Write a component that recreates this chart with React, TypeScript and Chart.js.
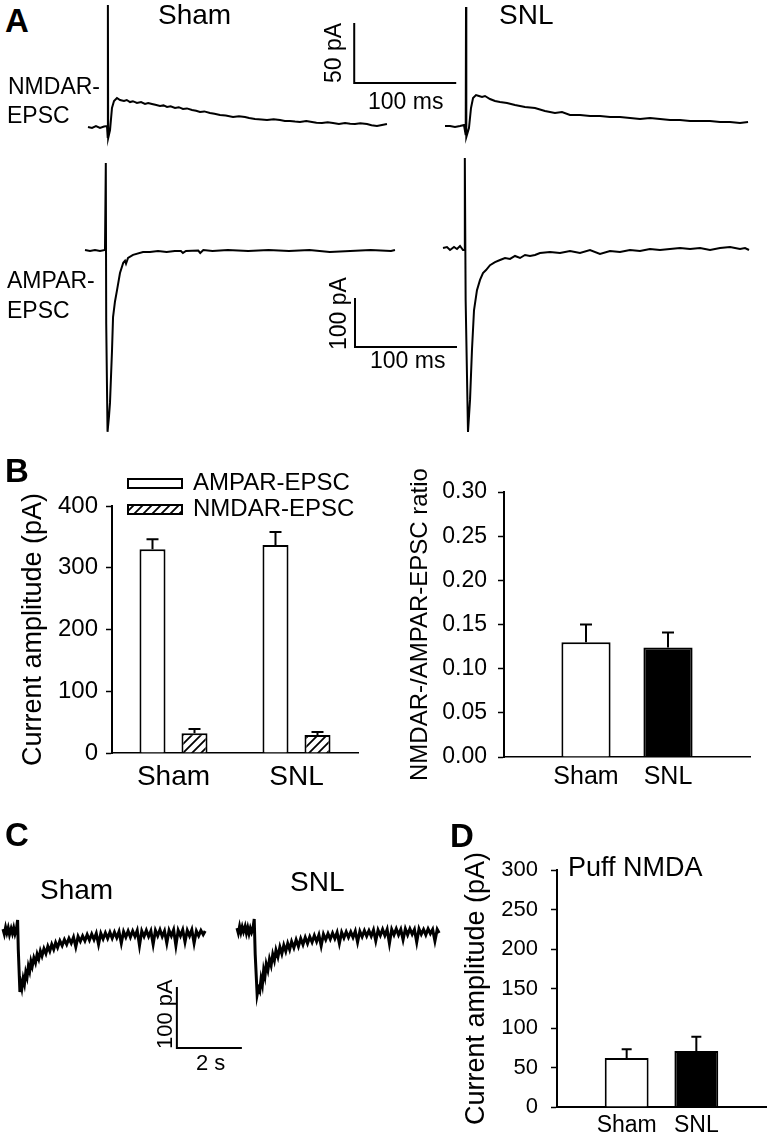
import React, { useEffect, useRef } from 'react';
import { Chart, registerables } from 'chart.js';

Chart.register(...registerables);

const FONT = "'Liberation Sans', Arial, Helvetica, sans-serif";
Chart.defaults.font.family = FONT;
Chart.defaults.color = '#000';

type Pt = [number, number];
type Box = { l: number; t: number; w: number; h: number };

// ---------------- DATA ----------------
// Panel A traces: [time (ms), current (pA)]
const A_NMDA_SHAM: Pt[] = [
  [0, 0], [3.9, -0.8], [7.8, 0.8], [11.8, -0.8], [15.7, 0.4], [18.6, 0.8], [19.3, -8.3], [19.5, 101.7], [19.8, -9.2],
  [21.6, -2.5], [23.5, 15.8], [25.5, 21.7], [28.4, 24.2], [31.4, 22.5], [35.3, 21.7], [38, 22.5], [41.2, 20.8], [44, 21.5],
  [48, 20], [52, 20.8], [55.9, 19.2], [59, 20], [62.7, 19.2], [66, 18.5], [70.6, 17.5], [74, 18], [77.5, 16.7], [81, 17.2],
  [85.3, 15.8], [89, 16.5], [93.1, 15], [97, 15.5], [102, 14.2], [106, 13.5], [109.8, 12.5], [114, 13], [119.6, 11.7],
  [124, 11], [129.4, 10], [135, 9.5], [142.2, 8.3], [148, 9], [153.9, 8.3], [158, 7.5], [163.7, 6.7], [170, 6.2],
  [175.5, 5.8], [182, 6.5], [188.2, 5.8], [193, 5], [198, 5], [203, 4.5], [207.8, 4.2], [214, 5], [219.6, 4.2], [224, 3.5],
  [229.4, 3.3], [235, 4], [240.2, 3.3], [246, 2.5], [252, 3.3], [257, 2.8], [261.8, 2.5], [267, 3.2], [273.5, 2.5],
  [278, 1.5], [283.3, 0.8], [288.2, 1.7], [293.1, 2.5],
];
const A_NMDA_SNL: Pt[] = [
  [0, 0], [4.9, 0], [9.8, -0.8], [14.7, 0], [18.6, 0.8], [20.3, -7.5], [20.6, 99.2], [20.9, -9.2], [23.5, -1.7],
  [25.5, 15], [27.5, 23.3], [30.4, 25.8], [33.3, 25], [36.3, 24.2], [39.2, 25], [44.1, 22.5], [49, 20.8], [53.9, 20],
  [60.8, 19.2], [68.6, 17.5], [78.4, 15.8], [88.2, 15], [98, 12.5], [107.8, 10.8], [114.7, 11.7], [122.5, 9.2],
  [132.4, 9.2], [142.2, 8.3], [152, 8.3], [161.8, 7.5], [171.6, 7.5], [181.4, 6.7], [191.2, 5.8], [201, 6.7],
  [210.8, 5.8], [220.6, 5], [230.4, 5], [240.2, 4.2], [250, 4.2], [259.8, 4.2], [269.6, 3.3], [279.4, 3.3],
  [289.2, 2.5], [297.1, 3.3],
];
const A_AMPA_SHAM: Pt[] = [
  [0, 0], [4.9, -2], [9.8, 0], [14.7, -2], [19.6, 0], [20.4, 177.6], [20.8, -150], [22.1, -371], [23.5, -340],
  [24.5, -312], [26.5, -204], [27.5, -137], [29.4, -105], [31.4, -82], [34.3, -47], [37.5, -26], [39.2, -22], [40.2, -28],
  [42.2, -16], [47.1, -10], [56.9, -4], [63.7, -4], [71.6, -2], [80, -4], [88, -2], [94, -2], [96, -6], [99, -2],
  [111, -1], [113, -6], [116, 0], [125, -2], [140, 0], [160, -2], [180, 0], [200, -2], [220, 0], [240, -4],
  [260, -2], [280, 0], [300, -2], [303.9, 0],
];
const A_AMPA_SNL: Pt[] = [
  [0, 0], [3.9, 2], [6.9, -4.1], [10.8, 2], [13.7, -2], [16.7, 4.1], [19.6, -4.1], [21.1, -4.1], [21.4, 183.7],
  [22.2, -106], [24.5, -375.5], [26.5, -310], [28.4, -208], [30.4, -127], [33.3, -86], [36.3, -65], [39.2, -51],
  [42.2, -45], [46.1, -35], [51, -29], [55.9, -24.5], [60.8, -20.4], [65.7, -22.4], [70.6, -16.3], [75.5, -20.4],
  [80.4, -14.3], [85.3, -16.3], [90.2, -14.3], [95.1, -10.2], [104.9, -8.2], [114.7, -10.2], [124.5, -6.1],
  [134.3, -10.2], [144.1, -4.1], [153.9, -12.2], [163.7, -6.1], [173.5, -8.2], [183.3, -4.1], [193.1, -6.1],
  [202.9, -2], [212.7, -4.1], [222.5, -2], [232.4, 0], [242.2, -2], [252, 0], [261.8, -4.1], [271.6, 0],
  [281.4, 2], [291.2, -2], [296.1, 0], [300, -4.1],
];
const A_NMDA_SCALE = { ms: 100, pA: 50 };
const A_AMPA_SCALE = { ms: 100, pA: 100 };

// Panel C traces: [time (s), current (pA)]
const C_SHAM: Pt[] = [
  [0.0, 3], [0.04, -5], [0.08, 6], [0.12, -3], [0.16, 5], [0.2, -6], [0.25, 4], [0.29, -4], [0.33, 5], [0.37, -5],
  [0.41, 2], [0.45, 18], [0.47, -30], [0.52, -100], [0.55, -86], [0.58, -94],
  [0.62, -78], [0.66, -87], [0.7, -68], [0.74, -76], [0.78, -58], [0.82, -66], [0.86, -50], [0.9, -58], [0.95, -44],
  [1.0, -52], [1.05, -38], [1.1, -46], [1.15, -33], [1.2, -41], [1.26, -29], [1.32, -37], [1.38, -25], [1.44, -33],
  [1.5, -22], [1.56, -30], [1.62, -19], [1.68, -27], [1.75, -16], [1.82, -24], [1.89, -14], [1.96, -22], [2.03, -12],
  [2.1, -20], [2.17, -10], [2.24, -26], [2.31, -9], [2.38, -17], [2.45, -8], [2.52, -16], [2.59, -6], [2.66, -15],
  [2.73, -5], [2.8, -14], [2.87, -4], [2.94, -22], [3.01, -4], [3.08, -13], [3.15, -3], [3.22, -12], [3.29, -2],
  [3.36, -12], [3.43, -2], [3.5, -11], [3.57, -1], [3.64, -20], [3.71, -1], [3.78, -10], [3.85, 0], [3.92, -10],
  [3.99, 0], [4.06, -9], [4.13, 1], [4.2, -24], [4.27, 0], [4.34, -9], [4.41, 1], [4.48, -9], [4.55, 0], [4.62, -22],
  [4.69, 1], [4.76, -8], [4.83, 2], [4.9, -9], [4.97, 0], [5.04, -20], [5.11, 1], [5.18, -8], [5.25, 2], [5.32, -24],
  [5.39, 1], [5.46, -8], [5.53, 2], [5.6, -18], [5.67, 1], [5.74, -8], [5.81, 2], [5.88, -20], [5.95, 0], [6.02, -8],
  [6.09, 1], [6.16, -6], [6.22, 0],
];
const C_SNL: Pt[] = [
  [0.0, 3], [0.04, -5], [0.08, 6], [0.12, -4], [0.16, 5], [0.2, -3], [0.25, 6], [0.29, -5], [0.33, 4], [0.37, -6],
  [0.41, 3], [0.45, -4], [0.49, 2], [0.53, 18], [0.56, -40], [0.62, -106], [0.66, -95], [0.7, -100],
  [0.74, -80], [0.78, -90], [0.82, -66], [0.86, -76], [0.9, -56], [0.95, -66], [1.0, -48], [1.05, -58], [1.1, -40],
  [1.15, -50], [1.2, -33], [1.26, -44], [1.32, -28], [1.38, -39], [1.44, -25], [1.5, -35], [1.56, -22], [1.62, -32],
  [1.68, -19], [1.75, -29], [1.82, -16], [1.89, -27], [1.96, -14], [2.03, -24], [2.1, -12], [2.17, -22], [2.24, -11],
  [2.31, -20], [2.38, -9], [2.45, -19], [2.52, -8], [2.59, -26], [2.66, -7], [2.73, -16], [2.8, -6], [2.87, -15],
  [2.94, -5], [3.01, -14], [3.08, -4], [3.15, -22], [3.22, -4], [3.29, -13], [3.36, -3], [3.43, -12], [3.5, -3],
  [3.57, -12], [3.64, -2], [3.71, -20], [3.78, -2], [3.85, -11], [3.92, -1], [3.99, -10], [4.06, -1], [4.13, -10],
  [4.2, 0], [4.27, -18], [4.34, 0], [4.41, -9], [4.48, 1], [4.55, -9], [4.62, 1], [4.69, -22], [4.76, 1], [4.83, -8],
  [4.9, 2], [4.97, -8], [5.04, 1], [5.11, -16], [5.18, 2], [5.25, -8], [5.32, 2], [5.39, -7], [5.46, 1], [5.53, -20],
  [5.6, 2], [5.67, -7], [5.74, 1], [5.81, -8], [5.88, 2], [5.95, -6], [6.02, 1], [6.09, -18], [6.16, 1], [6.22, -5],
];
const C_SCALE = { s: 2, pA: 100 };

// Panel B (left): current amplitudes
const B_GROUPS = ['Sham', 'SNL'];
const B_AMPAR = [330, 337];
const B_AMPAR_SEM = [16, 21];
const B_NMDAR = [32, 29];
const B_NMDAR_SEM = [7, 5];

// Panel B (right): NMDAR/AMPAR ratio
const RATIO_LABELS = ['', 'Sham', 'SNL', ''];
const RATIO = [null, 0.13, 0.124, null];
const RATIO_SEM = [0, 0.02, 0.017, 0];

// Panel D: puff NMDA
const PUFF_LABELS = ['', 'Sham', 'SNL', ''];
const PUFF = [null, 62, 71, null];
const PUFF_SEM = [0, 11, 18, 0];

// ---------------- HELPERS ----------------
function scaleBar(t0: number, i0: number, dt: number, di: number): Pt[] {
  return [[t0, i0 + di], [t0, i0], [t0 + dt, i0]];
}

function traceConfig(box: Box, ox: number, oy: number, pxX: number, pxY: number, lines: { pts: Pt[]; w: number }[]): any {
  const xmin = (box.l - ox) / pxX;
  const xmax = xmin + box.w / pxX;
  const ymax = (oy - box.t) / pxY;
  const ymin = ymax - box.h / pxY;
  return {
    type: 'scatter',
    data: {
      datasets: lines.map((ln) => ({
        data: ln.pts.map(([x, y]) => ({ x, y })),
        showLine: true,
        borderColor: '#000',
        borderWidth: ln.w,
        pointRadius: 0,
        tension: 0,
        clip: false,
        borderJoinStyle: 'miter',
      })),
    },
    options: {
      responsive: false,
      animation: false,
      devicePixelRatio: 1,
      events: [],
      layout: { padding: 0 },
      plugins: { legend: { display: false }, tooltip: { enabled: false } },
      scales: {
        x: { type: 'linear', display: false, min: xmin, max: xmax },
        y: { type: 'linear', display: false, min: ymin, max: ymax },
      },
    },
  };
}

function hatchPattern(): any {
  const c = document.createElement('canvas');
  c.width = 9;
  c.height = 9;
  const g = c.getContext('2d')!;
  g.fillStyle = '#fff';
  g.fillRect(0, 0, 9, 9);
  g.strokeStyle = '#000';
  g.lineWidth = 1.8;
  g.beginPath();
  g.moveTo(-1, 10); g.lineTo(10, -1);
  g.moveTo(-1, 1); g.lineTo(1, -1);
  g.moveTo(8, 10); g.lineTo(10, 8);
  g.stroke();
  return g.createPattern(c, 'repeat');
}

function errorBars(id: string, errors: number[][], cap: number, width: number) {
  return {
    id,
    afterDatasetsDraw(chart: any) {
      const { ctx } = chart;
      const y = chart.scales.y;
      ctx.save();
      ctx.strokeStyle = '#000';
      ctx.lineWidth = width;
      chart.data.datasets.forEach((ds: any, i: number) => {
        const meta = chart.getDatasetMeta(i);
        meta.data.forEach((bar: any, j: number) => {
          const v = ds.data[j];
          const e = errors[i][j];
          if (v == null || !e) return;
          const yb = y.getPixelForValue(v);
          const yt = y.getPixelForValue(v + e);
          ctx.beginPath();
          ctx.moveTo(bar.x, yb);
          ctx.lineTo(bar.x, yt);
          ctx.moveTo(bar.x - cap / 2, yt);
          ctx.lineTo(bar.x + cap / 2, yt);
          ctx.stroke();
        });
      });
      ctx.restore();
    },
  };
}

function boxLegend(id: string, o: { dx: number; dy: number; row: number; bw: number; bh: number; gap: number; size: number }) {
  return {
    id,
    afterDraw(chart: any) {
      const { ctx, chartArea } = chart;
      ctx.save();
      chart.data.datasets.forEach((ds: any, i: number) => {
        const x = chartArea.left + o.dx;
        const y = chartArea.top + o.dy + i * o.row;
        ctx.fillStyle = ds.backgroundColor;
        ctx.fillRect(x, y, o.bw, o.bh);
        ctx.lineWidth = 2;
        ctx.strokeStyle = '#000';
        ctx.strokeRect(x, y, o.bw, o.bh);
        ctx.fillStyle = '#000';
        ctx.font = `${o.size}px ${FONT}`;
        ctx.textBaseline = 'middle';
        ctx.textAlign = 'left';
        ctx.fillText(ds.label, x + o.bw + o.gap, y + o.bh / 2);
      });
      ctx.restore();
    },
  };
}

function barOptions(p: {
  pad: { top: number; right: number };
  yWidth: number; xHeight: number;
  min: number; max: number; step: number; fmt?: (v: number) => string;
  yFont: number; yPad: number; xFont: number; xPad: number;
  title: string; titleFont: number; titlePad: number;
  xOffset: boolean; xBorderW: number;
}): any {
  return {
    responsive: false,
    animation: false,
    devicePixelRatio: 1,
    events: [],
    layout: { padding: { top: p.pad.top, right: p.pad.right, left: 0, bottom: 0 } },
    plugins: { legend: { display: false }, tooltip: { enabled: false } },
    scales: {
      x: {
        offset: p.xOffset,
        grid: { display: false, drawTicks: false },
        border: { display: true, color: '#000', width: p.xBorderW },
        ticks: { font: { size: p.xFont }, color: '#000', padding: p.xPad, maxRotation: 0, autoSkip: false },
        afterFit: (s: any) => { s.height = p.xHeight; },
      },
      y: {
        min: p.min,
        max: p.max,
        ticks: {
          stepSize: p.step,
          font: { size: p.yFont },
          color: '#000',
          padding: p.yPad,
          callback: (v: any) => (p.fmt ? p.fmt(Number(v)) : String(v)),
        },
        grid: { display: true, drawOnChartArea: false, drawTicks: true, tickLength: 6, tickColor: '#000', tickWidth: 1.5 },
        border: { display: true, color: '#000', width: 2 },
        title: { display: true, text: p.title, font: { size: p.titleFont }, color: '#000', padding: { top: p.titlePad, bottom: 0 } },
        afterFit: (s: any) => { s.width = p.yWidth; },
      },
    },
  };
}

// ---------------- COMPONENTS ----------------
function ChartCanvas({ box, make }: { box: Box; make: () => any }) {
  const ref = useRef<HTMLCanvasElement>(null);
  useEffect(() => {
    const chart = new Chart(ref.current!, make());
    return () => chart.destroy();
  }, []);
  return (
    <canvas
      ref={ref}
      width={box.w}
      height={box.h}
      style={{ position: 'absolute', left: box.l, top: box.t, width: box.w, height: box.h }}
    />
  );
}

function Txt({ x, y, fs, bold, rot, children }: { x: number; y: number; fs: number; bold?: boolean; rot?: boolean; children: React.ReactNode }) {
  const base: React.CSSProperties = {
    position: 'absolute',
    fontSize: fs,
    lineHeight: `${fs}px`,
    fontWeight: bold ? 700 : 400,
    fontFamily: FONT,
    whiteSpace: 'nowrap',
    color: '#000',
  };
  if (rot) {
    return (
      <div style={{ ...base, left: x - 0.13 * fs, top: y, transform: 'rotate(-90deg)', transformOrigin: '0 0' }}>{children}</div>
    );
  }
  return <div style={{ ...base, left: x, top: y - 0.13 * fs }}>{children}</div>;
}

export default function App() {
  const boxNS = { l: 80, t: 0, w: 390, h: 150 };
  const boxNL = { l: 440, t: 0, w: 320, h: 150 };
  const boxAS = { l: 80, t: 150, w: 390, h: 290 };
  const boxAL = { l: 440, t: 150, w: 320, h: 290 };
  const boxCS = { l: 0, t: 900, w: 260, h: 160 };
  const boxCL = { l: 230, t: 900, w: 220, h: 110 };
  const boxB1 = { l: 0, t: 450, w: 385, h: 340 };
  const boxB2 = { l: 385, t: 440, w: 386, h: 350 };
  const boxD = { l: 430, t: 820, w: 341, h: 315 };

  return (
    <div style={{ position: 'absolute', left: 0, top: 0, width: 771, height: 1135, background: '#fff', overflow: 'hidden' }}>
      <ChartCanvas box={boxNS} make={() => traceConfig(boxNS, 88, 127, 1.02, 1.2, [
        { pts: A_NMDA_SHAM, w: 2 },
        { pts: scaleBar(261, 36.7, A_NMDA_SCALE.ms, A_NMDA_SCALE.pA), w: 2 },
      ])} />
      <ChartCanvas box={boxNL} make={() => traceConfig(boxNL, 445, 126, 1.02, 1.2, [{ pts: A_NMDA_SNL, w: 2 }])} />
      <ChartCanvas box={boxAS} make={() => traceConfig(boxAS, 85, 250, 1.02, 0.49, [
        { pts: A_AMPA_SHAM, w: 2 },
        { pts: scaleBar(264.7, -198, A_AMPA_SCALE.ms, A_AMPA_SCALE.pA), w: 2 },
      ])} />
      <ChartCanvas box={boxAL} make={() => traceConfig(boxAL, 443, 248, 1.02, 0.49, [{ pts: A_AMPA_SNL, w: 2 }])} />
      <ChartCanvas box={boxCS} make={() => traceConfig(boxCS, 3, 931, 32.5, 0.61, [
        { pts: C_SHAM, w: 3 },
        { pts: scaleBar(5.35, -191.8, C_SCALE.s, C_SCALE.pA), w: 2 },
      ])} />
      <ChartCanvas box={boxCL} make={() => traceConfig(boxCL, 237, 930, 32.5, 0.61, [{ pts: C_SNL, w: 3 }])} />

      <ChartCanvas box={boxB1} make={() => ({
        type: 'bar',
        data: {
          labels: B_GROUPS,
          datasets: [
            { label: 'AMPAR-EPSC', data: B_AMPAR, backgroundColor: '#fff', borderColor: '#000', borderWidth: 2, categoryPercentage: 0.683, barPercentage: 0.62 },
            { label: 'NMDAR-EPSC', data: B_NMDAR, backgroundColor: hatchPattern(), borderColor: '#000', borderWidth: 2, categoryPercentage: 0.683, barPercentage: 0.62 },
          ],
        },
        options: barOptions({
          pad: { top: 56, right: 27 }, yWidth: 112, xHeight: 37,
          min: 0, max: 400, step: 100,
          yFont: 24, yPad: 8, xFont: 28, xPad: 7,
          title: 'Current amplitude (pA)', titleFont: 27, titlePad: 17,
          xOffset: true, xBorderW: 1.5,
        }),
        plugins: [
          errorBars('errB1', [B_AMPAR_SEM, B_NMDAR_SEM], 12, 2),
          boxLegend('legB1', { dx: 16, dy: -27, row: 26, bw: 54, bh: 9, gap: 11, size: 24 }),
        ],
      })} />

      <ChartCanvas box={boxB2} make={() => ({
        type: 'bar',
        data: {
          labels: RATIO_LABELS,
          datasets: [
            { label: 'NMDAR-/AMPAR-EPSC ratio', data: RATIO, backgroundColor: ['#fff', '#fff', '#000', '#fff'], borderColor: '#000', borderWidth: 2, categoryPercentage: 1, barPercentage: 0.6 },
          ],
        },
        options: barOptions({
          pad: { top: 52, right: 21 }, yWidth: 119, xHeight: 33,
          min: 0, max: 0.3, step: 0.05, fmt: (v) => v.toFixed(2),
          yFont: 23, yPad: 11, xFont: 25, xPad: 5,
          title: 'NMDAR-/AMPAR-EPSC ratio', titleFont: 24, titlePad: 21,
          xOffset: false, xBorderW: 1.5,
        }),
        plugins: [errorBars('errB2', [RATIO_SEM], 12, 2)],
      })} />

      <ChartCanvas box={boxD} make={() => ({
        type: 'bar',
        data: {
          labels: PUFF_LABELS,
          datasets: [
            { label: 'Puff NMDA', data: PUFF, backgroundColor: ['#fff', '#fff', '#000', '#fff'], borderColor: '#000', borderWidth: 2, categoryPercentage: 1, barPercentage: 0.63 },
          ],
        },
        options: barOptions({
          pad: { top: 50, right: 1 }, yWidth: 127, xHeight: 28,
          min: 0, max: 300, step: 50,
          yFont: 22, yPad: 13, xFont: 23, xPad: 5,
          title: 'Current amplitude (pA)', titleFont: 27, titlePad: 30,
          xOffset: false, xBorderW: 2,
        }),
        plugins: [errorBars('errD', [PUFF_SEM], 10, 2)],
      })} />

      {/* Panel A text */}
      <Txt x={5} y={8} fs={33} bold>A</Txt>
      <Txt x={158} y={5} fs={28}>Sham</Txt>
      <Txt x={499} y={5} fs={28}>SNL</Txt>
      <Txt x={8} y={78} fs={23}>NMDAR-</Txt>
      <Txt x={7} y={107} fs={23}>EPSC</Txt>
      <Txt x={325} y={83} fs={23} rot>50 pA</Txt>
      <Txt x={368} y={93} fs={23}>100 ms</Txt>
      <Txt x={7} y={272} fs={23}>AMPAR-</Txt>
      <Txt x={7} y={302} fs={23}>EPSC</Txt>
      <Txt x={330} y={350} fs={23} rot>100 pA</Txt>
      <Txt x={370} y={352} fs={23}>100 ms</Txt>

      {/* Panel B */}
      <Txt x={5} y={458} fs={33} bold>B</Txt>

      {/* Panel C */}
      <Txt x={5} y={822} fs={33} bold>C</Txt>
      <Txt x={40} y={880} fs={28}>Sham</Txt>
      <Txt x={290} y={872} fs={28}>SNL</Txt>
      <Txt x={157} y={1049} fs={22} rot>100 pA</Txt>
      <Txt x={196} y={1055} fs={22}>2 s</Txt>

      {/* Panel D */}
      <Txt x={450} y={823} fs={33} bold>D</Txt>
      <Txt x={568} y={858} fs={27}>Puff NMDA</Txt>
    </div>
  );
}
